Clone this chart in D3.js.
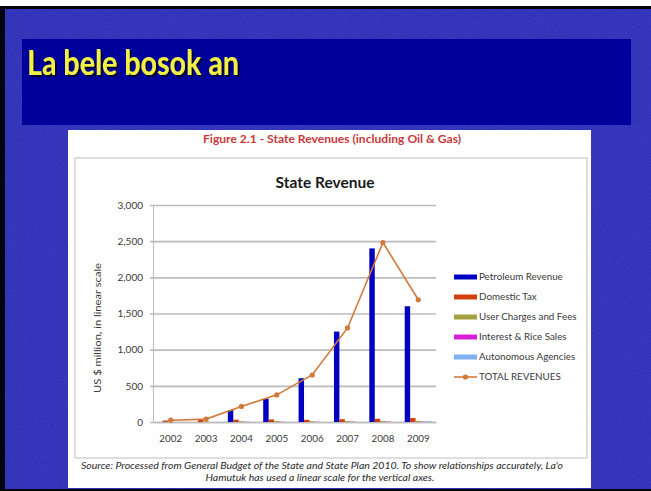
<!DOCTYPE html>
<html>
<head>
<meta charset="utf-8">
<script src="https://d3js.org/d3.v7.min.js"></script>
<style>
  body { margin: 0; background: #fff; }
  svg { display: block; }
</style>
</head>
<body>
<script>
  // chart values
  const years = ['2002', '2003', '2004', '2005', '2006', '2007', '2008', '2009'];
  const seriesNames = ['Petroleum Revenue', 'Domestic Tax', 'User Charges and Fees', 'Interest & Rice Sales', 'Autonomous Agencies'];
  const petroleum = [0, 0, 165, 320, 605, 1250, 2400, 1600];
  const domesticTax = [20, 28, 32, 35, 30, 38, 45, 55];
  const userCharges = [5, 8, 10, 12, 10, 12, 15, 15];
  const interestRice = [0, 0, 3, 3, 3, 5, 5, 5];
  const autonomous = [0, 0, 0, 0, 0, 0, 0, 10];
  const totalRevenues = [25, 40, 215, 375, 650, 1300, 2480, 1690];
  const yTicks = [0, 500, 1000, 1500, 2000, 2500, 3000];
  const totalName = 'TOTAL REVENUES';

  const colors = ['#0000c0', '#d0400f', '#a4a040', '#d820d8', '#7fb0f0'];
  const lineColor = '#d27a3c';
  const font = 'Lato, "Open Sans", sans-serif';

  const width = 651;
  const height = 491;

  var svg = d3.select('body')
    .append('svg')
    .attr('width', width)
    .attr('height', height);

  // slide frame + textured blue background
  var defs = svg.append('defs');
  var f = defs.append('filter').attr('id', 'grain').attr('x', 0).attr('y', 0).attr('width', 1).attr('height', 1);
  f.append('feTurbulence').attr('type', 'fractalNoise').attr('baseFrequency', 0.9).attr('numOctaves', 2).attr('seed', 3).attr('result', 'n');
  f.append('feColorMatrix').attr('in', 'n').attr('type', 'matrix')
    .attr('values', '0 0 0 0 0.16  0 0 0 0 0.16  0 0 0 0 0.72  0 0 0 0.55 0')
    .attr('result', 'c');
  f.append('feComposite').attr('in', 'c').attr('in2', 'SourceGraphic').attr('operator', 'in');

  var sh = defs.append('filter').attr('id', 'shadow').attr('x', -0.1).attr('y', -0.2).attr('width', 1.2).attr('height', 1.5);
  sh.append('feDropShadow').attr('dx', 2).attr('dy', 2).attr('stdDeviation', 0.6).attr('flood-color', '#000030');

  svg.append('rect').attr('width', width).attr('height', height).attr('fill', '#fff');
  svg.append('rect').attr('x', 0).attr('y', 6).attr('width', width).attr('height', height - 6).attr('fill', '#050510');
  svg.append('rect').attr('x', 5).attr('y', 9).attr('width', width - 5).attr('height', 480).attr('fill', '#2a2ab4');
  svg.append('rect').attr('x', 5).attr('y', 9).attr('width', width - 5).attr('height', 480)
    .attr('fill', '#2a2ab4').attr('filter', 'url(#grain)').attr('opacity', 0.6);

  // title box
  svg.append('rect').attr('x', 22).attr('y', 39).attr('width', 609).attr('height', 86).attr('fill', '#00009a');
  svg.append('text').attr('x', 27).attr('y', 75)
    .attr('font-family', font).attr('font-weight', 'bold').attr('font-size', 34)
    .attr('textLength', 212).attr('lengthAdjust', 'spacingAndGlyphs')
    .attr('filter', 'url(#shadow)')
    .attr('fill', '#f2f044').text('La bele bosok an');

  // white figure panel
  svg.append('rect').attr('x', 68).attr('y', 130).attr('width', 523).attr('height', 358).attr('fill', '#fefefe');
  svg.append('text').attr('x', 332).attr('y', 143).attr('text-anchor', 'middle')
    .attr('font-family', font).attr('font-size', 11).attr('font-weight', 'bold')
    .attr('textLength', 258).attr('lengthAdjust', 'spacingAndGlyphs')
    .attr('fill', '#c8383c').text('Figure 2.1 - State Revenues (including Oil & Gas)');
  svg.append('rect').attr('x', 75).attr('y', 158).attr('width', 512).attr('height', 300)
    .attr('fill', 'none').attr('stroke', '#d4d4d4').attr('stroke-width', 1.5);

  svg.append('text').attr('x', 325).attr('y', 188).attr('text-anchor', 'middle')
    .attr('font-family', font).attr('font-size', 15.5).attr('font-weight', 'bold')
    .attr('fill', '#1a1a1a').text('State Revenue');

  // scales
  var x = d3.scaleBand().domain(years).range([153, 436]);
  var xs = d3.scaleBand().domain(seriesNames).range([0, x.bandwidth()]).paddingOuter(0.75);
  var y = d3.scaleLinear().domain([0, 3000]).range([422, 205]);

  // gridlines + y axis
  var yAxis = svg.append('g').attr('transform', 'translate(153,0)')
    .call(d3.axisLeft(y).tickValues(yTicks).tickFormat(d3.format(',')).tickSize(-283).tickSizeOuter(0));
  yAxis.select('.domain').attr('stroke', '#bdbdbd');
  yAxis.selectAll('.tick line').attr('stroke', '#bcbcbc').attr('stroke-width', 1.6).attr('x1', -3);
  yAxis.selectAll('.tick text').attr('x', -10).attr('font-family', font).attr('font-size', 10).attr('fill', '#3a3a3a');

  // x axis
  var xAxis = svg.append('g').attr('transform', 'translate(0,422)')
    .call(d3.axisBottom(x).tickSize(0).tickSizeOuter(0).tickPadding(13));
  xAxis.select('.domain').attr('stroke', '#bdbdbd').attr('stroke-width', 1.4);
  xAxis.selectAll('.tick text').attr('font-family', font).attr('font-size', 9.8).attr('fill', '#3a3a3a');

  // bars
  var seriesValues = [petroleum, domesticTax, userCharges, interestRice, autonomous];
  seriesValues.forEach(function(vals, s) {
    svg.append('g').selectAll('rect')
      .data(vals)
      .enter()
      .append('rect')
      .attr('x', function(d, i) { return x(years[i]) + xs(seriesNames[s]); })
      .attr('width', xs.bandwidth())
      .attr('y', function(d) { return y(d); })
      .attr('height', function(d) { return y(0) - y(d); })
      .attr('fill', colors[s]);
  });

  // total revenues line
  var line = d3.line()
    .x(function(d, i) { return x(years[i]) + x.bandwidth() / 2; })
    .y(function(d) { return y(d); });
  svg.append('path').datum(totalRevenues)
    .attr('d', line).attr('fill', 'none').attr('stroke', lineColor).attr('stroke-width', 1.6);
  svg.append('g').selectAll('circle')
    .data(totalRevenues)
    .enter()
    .append('circle')
    .attr('cx', function(d, i) { return x(years[i]) + x.bandwidth() / 2; })
    .attr('cy', function(d) { return y(d); })
    .attr('r', 2.6)
    .attr('fill', lineColor);

  // y label
  svg.append('text').attr('transform', 'translate(101,328) rotate(-90)')
    .attr('text-anchor', 'middle').attr('font-family', font).attr('font-size', 10)
    .attr('textLength', 130).attr('lengthAdjust', 'spacingAndGlyphs')
    .attr('fill', '#3a3a3a').text('US $ million, in linear scale');

  // legend
  var legend = svg.append('g').attr('font-family', font).attr('font-size', 9.8).attr('fill', '#3a3a3a');
  seriesNames.forEach(function(name, i) {
    var ly = 277 + i * 20;
    legend.append('rect').attr('x', 454).attr('y', ly - 2.5).attr('width', 23).attr('height', 5).attr('fill', colors[i]);
    legend.append('text').attr('x', 479).attr('y', ly).attr('dy', '0.35em').text(name);
  });
  var ty = 277 + 5 * 20;
  legend.append('line').attr('x1', 454).attr('x2', 477).attr('y1', ty).attr('y2', ty)
    .attr('stroke', lineColor).attr('stroke-width', 1.6);
  legend.append('circle').attr('cx', 465.5).attr('cy', ty).attr('r', 2.6).attr('fill', lineColor);
  legend.append('text').attr('x', 479).attr('y', ty).attr('dy', '0.35em').text(totalName);

  // source note
  var note = svg.append('text').attr('text-anchor', 'middle').attr('font-family', font)
    .attr('font-size', 9.5).attr('font-style', 'italic').attr('fill', '#2a2a2a')
    .attr('lengthAdjust', 'spacingAndGlyphs');
  note.append('tspan').attr('x', 322).attr('y', 469).attr('textLength', 482)
    .attr('lengthAdjust', 'spacingAndGlyphs')
    .text("Source: Processed from General Budget of the State and State Plan 2010. To show relationships accurately, La'o");
  note.append('tspan').attr('x', 320).attr('y', 481).attr('textLength', 229)
    .attr('lengthAdjust', 'spacingAndGlyphs')
    .text('Hamutuk has used a linear scale for the vertical axes.');
</script>
</body>
</html>
